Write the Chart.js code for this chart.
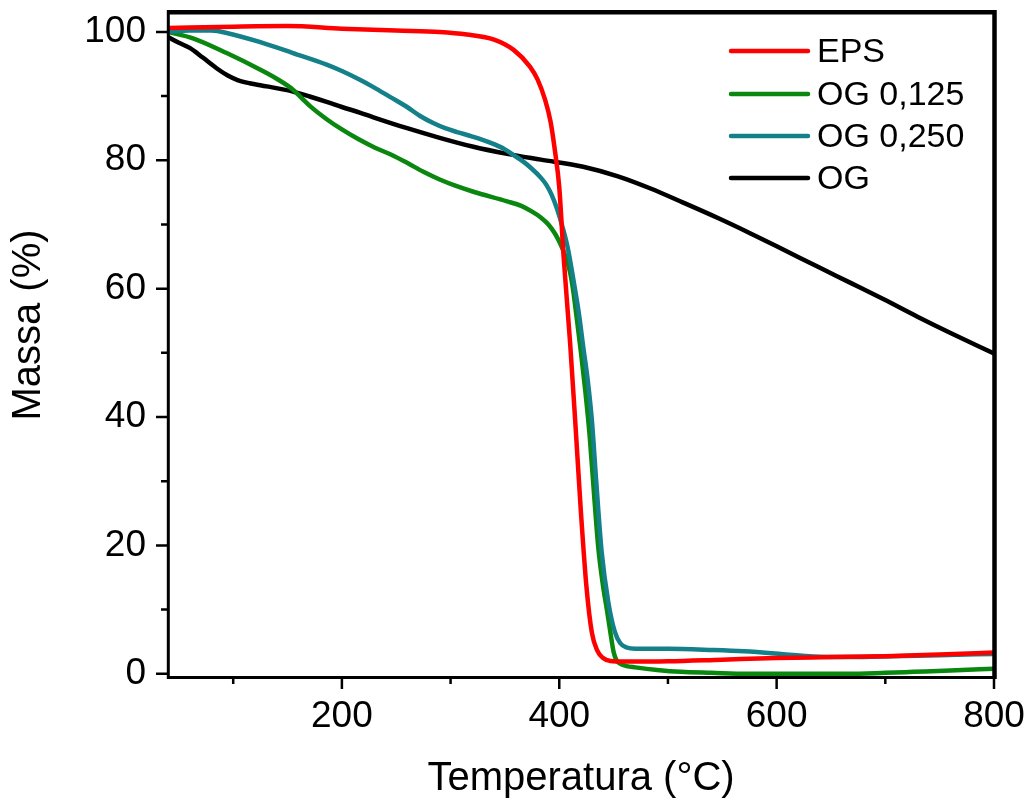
<!DOCTYPE html>
<html>
<head>
<meta charset="utf-8">
<script src="https://cdn.jsdelivr.net/npm/chart.js@4.4.1/dist/chart.umd.min.js"></script>
<style>
html,body{margin:0;padding:0;background:#fff;}
#wrap{width:1031px;height:800px;position:relative;}
</style>
</head>
<body>
<div id="wrap"><canvas id="c" width="1031" height="800"></canvas></div>
<script>
// ---- data ----
const seriesNames = ['EPS', 'OG 0,125', 'OG 0,250', 'OG'];
const seriesColors = ['#ff0000', '#0a870f', '#13808a', '#000000'];

const xTicks = [200, 400, 600, 800];
const xMinorTicks = [100, 300, 500, 700];
const yTicks = [0, 20, 40, 60, 80, 100];
const yMinorTicks = [10, 30, 50, 70, 90];

const xTitle = 'Temperatura (°C)';
const yTitle = 'Massa (%)';

const epsT = [40, 100, 150, 200, 250, 290, 315, 340, 358, 373, 380, 387, 392, 396, 400, 404, 410, 415, 420, 425, 430, 435, 440, 447, 460, 500, 550, 600, 650, 700, 750, 800];
const epsM = [100.6, 100.8, 100.9, 100.5, 100.2, 100.0, 99.6, 98.8, 97.2, 94.6, 92.6, 89.4, 86.0, 81.5, 75.8, 65.0, 51.5, 38.5, 25.0, 13.6, 6.4, 3.6, 2.5, 2.0, 1.9, 1.95, 2.2, 2.45, 2.6, 2.75, 3.0, 3.3];

const og125T = [40, 63, 94, 125, 140, 155, 163, 171, 186, 200, 215, 230, 245, 260, 275, 290, 305, 321, 352, 365, 375, 383, 390, 396, 401, 406, 410, 413, 416, 420, 424, 428, 432, 436, 440, 444, 447, 450, 453, 457, 462, 470, 490, 512, 540, 573, 620, 665, 700, 726, 760, 800];
const og125M = [100.0, 99.0, 96.7, 94.1, 92.7, 91.0, 89.7, 88.4, 86.4, 84.8, 83.3, 82.0, 80.9, 79.6, 78.2, 77.0, 76.0, 75.1, 73.6, 72.9, 72.0, 71.1, 70.0, 68.6, 67.0, 64.9, 62.5, 59.5, 55.5, 50.0, 44.0, 37.0, 28.0, 19.5, 14.0, 9.8, 6.5, 3.4, 2.0, 1.5, 1.2, 1.0, 0.6, 0.3, 0.15, 0.0, 0.0, 0.0, 0.15, 0.3, 0.5, 0.8];

const og250T = [40, 60, 80, 95, 125, 155, 186, 200, 217, 229, 245, 260, 272, 284, 295, 306, 320, 337, 350, 358, 366, 374, 383, 388, 393, 398, 403, 408, 413, 418, 422, 426, 430, 434, 439, 445, 451, 456, 462, 470, 500, 542, 570, 604, 634, 665, 696, 750, 800];
const og250M = [100.0, 100.2, 100.2, 99.8, 98.4, 96.7, 94.9, 93.9, 92.5, 91.4, 89.8, 88.3, 86.9, 85.8, 85.0, 84.4, 83.7, 82.7, 81.7, 80.8, 79.9, 78.8, 77.3, 76.2, 74.6, 72.4, 69.6, 66.2, 61.4, 56.2, 51.0, 46.0, 39.5, 30.0, 19.0, 11.3, 6.6, 4.8, 4.1, 3.9, 3.9, 3.7, 3.5, 3.1, 2.7, 2.6, 2.7, 2.9, 3.1];

const ogT = [40, 50, 60, 72, 85, 95, 104, 115, 125, 155, 171, 186, 200, 217, 229, 260, 290, 321, 352, 383, 422, 454, 484, 514, 546, 576, 606, 638, 668, 699, 730, 760, 800];
const ogM = [99.2, 98.3, 97.5, 96.0, 94.3, 93.2, 92.5, 92.0, 91.7, 90.7, 89.9, 89.1, 88.3, 87.4, 86.7, 85.0, 83.5, 82.1, 81.0, 80.1, 79.0, 77.5, 75.6, 73.4, 71.0, 68.6, 66.1, 63.4, 60.9, 58.3, 55.6, 53.1, 49.9];

// ---- build datasets ----
const FONT = "'Liberation Sans', Arial, Helvetica, sans-serif";
const toPts = (xs, ys) => xs.map((v, i) => ({x: v, y: ys[i]}));
const seriesData = [toPts(epsT, epsM), toPts(og125T, og125M), toPts(og250T, og250M), toPts(ogT, ogM)];
const drawOrder = [0, 2, 1, 3];

const datasets = seriesNames.map((name, i) => ({
  label: name,
  data: seriesData[i],
  borderColor: seriesColors[i],
  backgroundColor: seriesColors[i],
  borderWidth: 4.5,
  pointRadius: 0,
  showLine: true,
  fill: false,
  cubicInterpolationMode: 'monotone',
  order: drawOrder[i]
}));

const framePlugin = {
  id: 'frame',
  afterDraw(chart) {
    const {ctx, chartArea: a} = chart;
    const xs = chart.scales.x, ys = chart.scales.y;
    ctx.save();
    ctx.strokeStyle = '#000';
    ctx.lineCap = 'butt';
    // tick marks
    ctx.lineWidth = 2.5;
    ctx.beginPath();
    xTicks.forEach(v => { const p = xs.getPixelForValue(v); ctx.moveTo(p, a.bottom); ctx.lineTo(p, a.bottom + 12); });
    xMinorTicks.forEach(v => { const p = xs.getPixelForValue(v); ctx.moveTo(p, a.bottom); ctx.lineTo(p, a.bottom + 7); });
    yTicks.forEach(v => { const p = ys.getPixelForValue(v); ctx.moveTo(a.left, p); ctx.lineTo(a.left - 12, p); });
    yMinorTicks.forEach(v => { const p = ys.getPixelForValue(v); ctx.moveTo(a.left, p); ctx.lineTo(a.left - 7, p); });
    ctx.stroke();
    // left & bottom axis lines
    ctx.lineWidth = 3;
    ctx.beginPath();
    ctx.moveTo(a.left + 0.3, a.top - 2);
    ctx.lineTo(a.left + 0.3, a.bottom + 0.5);
    ctx.lineTo(a.right, a.bottom + 0.5);
    ctx.stroke();
    // top & right (heavier)
    ctx.lineWidth = 4.5;
    ctx.beginPath();
    ctx.moveTo(a.left - 1, a.top + 0.3);
    ctx.lineTo(a.right + 0.5, a.top + 0.3);
    ctx.lineTo(a.right + 0.5, a.bottom + 2);
    ctx.stroke();
    // legend
    const legY = [51, 94, 136, 178];
    chart.data.datasets.forEach((ds, i) => {
      ctx.strokeStyle = ds.borderColor;
      ctx.lineWidth = 4.5;
      ctx.lineCap = 'round';
      ctx.beginPath();
      ctx.moveTo(731, legY[i]);
      ctx.lineTo(808, legY[i]);
      ctx.stroke();
      ctx.fillStyle = '#000';
      ctx.font = '34px ' + FONT;
      ctx.textAlign = 'left';
      ctx.textBaseline = 'middle';
      ctx.fillText(ds.label, 817, legY[i] + 2);
    });
    // y axis title
    ctx.translate(29, 325);
    ctx.rotate(-Math.PI / 2);
    ctx.fillStyle = '#000';
    ctx.font = '40px ' + FONT;
    ctx.textAlign = 'center';
    ctx.textBaseline = 'middle';
    ctx.fillText(yTitle, 0, 0);
    ctx.restore();
  }
};

new Chart(document.getElementById('c'), {
  type: 'scatter',
  data: {datasets},
  options: {
    responsive: false,
    animation: false,
    layout: {padding: {left: 0, top: 12, right: 37, bottom: 0}},
    plugins: {legend: {display: false}, tooltip: {enabled: false}},
    scales: {
      x: {
        type: 'linear',
        min: 40, max: 800,
        afterBuildTicks: s => { s.ticks = xTicks.map(v => ({value: v})); },
        afterFit: s => { s.height = 123; s.paddingLeft = 0; s.paddingRight = 0; },
        grid: {display: false, drawTicks: true, tickLength: 12},
        border: {display: false},
        ticks: {font: {family: FONT, size: 37, lineHeight: 1}, color: '#000', padding: 9, maxRotation: 0, autoSkip: false},
        title: {display: true, text: xTitle, color: '#000', font: {family: FONT, size: 40, lineHeight: 1}, padding: {top: 0, bottom: 1}}
      },
      y: {
        type: 'linear',
        min: -0.5, max: 103.1,
        afterBuildTicks: s => { s.ticks = yTicks.map(v => ({value: v})); },
        afterFit: s => { s.width = 168; s.paddingTop = 0; s.paddingBottom = 0; },
        grid: {display: false, drawTicks: true, tickLength: 12},
        border: {display: false},
        ticks: {font: {family: FONT, size: 37, lineHeight: 1}, color: '#000', padding: 10, autoSkip: false},
        title: {display: false, text: yTitle}
      }
    }
  },
  plugins: [framePlugin]
});
</script>
</body>
</html>
